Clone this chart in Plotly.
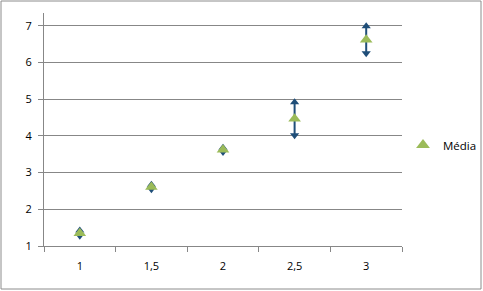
import plotly.graph_objects as go

categories = ["1", "1,5", "2", "2,5", "3"]
media = [1.35, 2.61, 3.62, 4.47, 6.62]
erro = [0.07, 0.06, 0.06, 0.45, 0.37]
y_ticks = [1, 2, 3, 4, 5, 6, 7]

green = "#9BBB59"
blue = "#1F4E79"
grid = "#878787"

upper = [m + e for m, e in zip(media, erro)]
lower = [m - e for m, e in zip(media, erro)]

fig = go.Figure()
fig.add_trace(go.Scatter(x=categories, y=upper, mode="markers", showlegend=False,
                         marker=dict(symbol="triangle-up", size=8, color=blue),
                         hoverinfo="skip"))
fig.add_trace(go.Scatter(x=categories, y=lower, mode="markers", showlegend=False,
                         marker=dict(symbol="triangle-down", size=8, color=blue),
                         hoverinfo="skip"))
fig.add_trace(go.Scatter(x=categories, y=media, mode="markers", name="Média",
                         marker=dict(symbol="triangle-up", size=11, color=green),
                         error_y=dict(type="data", array=erro, color=blue,
                                      thickness=2, width=0)))

W, H = 483, 291
ml, mr, mt, mb = 44, 81, 13, 45
pw, ph = W - ml - mr, H - mt - mb

fig.update_layout(
    width=W, height=H,
    margin=dict(l=ml, r=mr, t=mt, b=mb, autoexpand=False),
    paper_bgcolor="white", plot_bgcolor="white",
    font=dict(family="Open Sans, DejaVu Sans, sans-serif", size=11, color="#000000"),
    showlegend=True,
    legend=dict(x=(403 - ml) / pw, y=(246 - 145) / ph, xanchor="left", yanchor="middle",
                font=dict(size=11.5), itemwidth=30, bgcolor="rgba(0,0,0,0)",
                tracegroupgap=0, itemsizing="constant"),
    xaxis=dict(type="category", categoryorder="array", categoryarray=categories,
               tickson="boundaries", ticks="outside", ticklen=5, tickcolor=grid,
               showgrid=False, showline=True, linecolor=grid, linewidth=1,
               zeroline=False, ticklabelstandoff=10, range=[-0.5, 4.5]),
    yaxis=dict(range=[1, 7.35], tickvals=y_ticks, ticks="outside", ticklen=5,
               tickcolor=grid, showgrid=True, gridcolor=grid, gridwidth=1,
               showline=True, linecolor=grid, linewidth=1, zeroline=False,
               ticklabelstandoff=4),
    shapes=[dict(type="rect", xref="paper", yref="paper",
                 x0=(1 - ml) / pw, x1=(481 - ml) / pw,
                 y0=-(289 - (H - mb)) / ph, y1=((H - mb) - 1) / ph,
                 line=dict(color="#8C8C8C", width=1))],
)

fig.write_html("out.html")
